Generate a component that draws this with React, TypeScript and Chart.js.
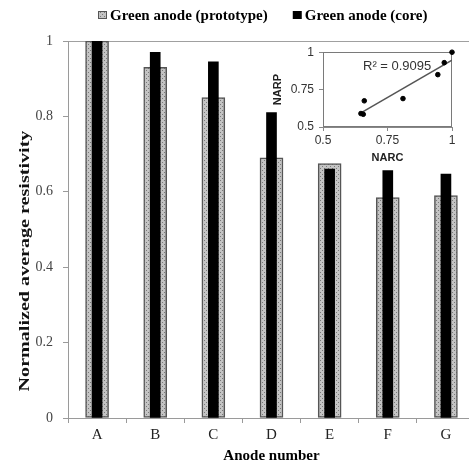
import React, { useEffect, useRef } from "react";
import { Chart, registerables } from "chart.js";

Chart.register(...registerables);

const categories = ["A", "B", "C", "D", "E", "F", "G"];
const prototypeValues = [1.0, 0.93, 0.85, 0.69, 0.675, 0.585, 0.59];
const coreValues = [1.0, 0.97, 0.945, 0.81, 0.66, 0.656, 0.647];
const seriesLabels = ["Green anode (prototype)", "Green anode (core)"];
const yTickLabels = ["0", "0.2", "0.4", "0.6", "0.8", "1"];
const insetTickLabels = ["0.5", "0.75", "1"];
const rSquaredLabel = "R² = 0.9095";
const xTitle = "Anode number";
const yTitle = "Normalized average resistivity";
const insetXTitle = "NARC";
const insetYTitle = "NARP";

const SERIF = "'Liberation Serif', 'Times New Roman', serif";
const SANS = "'Liberation Sans', Arial, sans-serif";

function makePattern(): CanvasPattern | string {
  const c = document.createElement("canvas");
  c.width = 4;
  c.height = 4;
  const g = c.getContext("2d");
  if (!g) return "#bdbdbd";
  g.fillStyle = "#c4c4c4";
  g.fillRect(0, 0, 4, 4);
  g.fillStyle = "#7a7a7a";
  g.fillRect(0, 0, 1, 1);
  g.fillRect(2, 2, 1, 1);
  const p = g.createPattern(c, "repeat");
  return p || "#bdbdbd";
}

function linearFit(xs: number[], ys: number[]) {
  const n = xs.length;
  let sx = 0, sy = 0, sxx = 0, sxy = 0;
  for (let i = 0; i < n; i++) {
    sx += xs[i];
    sy += ys[i];
    sxx += xs[i] * xs[i];
    sxy += xs[i] * ys[i];
  }
  const b = (n * sxy - sx * sy) / (n * sxx - sx * sx);
  const a = (sy - b * sx) / n;
  return { a, b };
}

const mainDecor = {
  id: "mainDecor",
  afterDraw(chart: any) {
    const ctx = chart.ctx as CanvasRenderingContext2D;
    ctx.save();
    // legend
    ctx.font = `bold 15px ${SERIF}`;
    ctx.textBaseline = "middle";
    ctx.textAlign = "left";
    let x = 98;
    const y = 15;
    chart.data.datasets.forEach((ds: any) => {
      ctx.fillStyle = ds.backgroundColor;
      ctx.fillRect(x, y - 4, 9, 8);
      if (ds.borderWidth) {
        ctx.strokeStyle = ds.borderColor;
        ctx.lineWidth = 1;
        ctx.strokeRect(x + 0.5, y - 3.5, 8, 7);
      }
      ctx.fillStyle = "#000";
      ctx.fillText(ds.label, x + 12, y + 1);
      x += 12 + ctx.measureText(ds.label).width + 25;
    });
    // y axis title
    ctx.translate(25, 261);
    ctx.rotate(-Math.PI / 2);
    ctx.scale(1.34, 1);
    ctx.font = `bold 15px ${SERIF}`;
    ctx.textAlign = "center";
    ctx.fillStyle = "#111";
    ctx.fillText(yTitle, 0, 0);
    ctx.restore();
  },
};

const insetDecor = {
  id: "insetDecor",
  beforeDatasetsDraw(chart: any) {
    const { ctx, chartArea: a } = chart;
    ctx.save();
    ctx.strokeStyle = "#7a7a7a";
    ctx.lineWidth = 1;
    ctx.strokeRect(
      Math.round(a.left) + 0.5,
      Math.round(a.top) + 0.5,
      Math.round(a.right - a.left) - 1,
      Math.round(a.bottom - a.top) - 1
    );
    ctx.font = `13px ${SANS}`;
    ctx.fillStyle = "#333";
    ctx.textBaseline = "middle";
    ctx.textAlign = "left";
    ctx.fillText(rSquaredLabel, a.left + 40, a.top + 14);
    ctx.restore();
  },
};

export default function App() {
  const mainRef = useRef<HTMLCanvasElement | null>(null);
  const insetRef = useRef<HTMLCanvasElement | null>(null);

  useEffect(() => {
    if (!mainRef.current || !insetRef.current) return;
    const pattern = makePattern();

    const main = new Chart(mainRef.current, {
      type: "bar",
      data: {
        labels: categories,
        datasets: [
          {
            label: seriesLabels[0],
            data: prototypeValues,
            backgroundColor: pattern as any,
            borderColor: "#555555",
            borderWidth: 1.5,
            borderSkipped: false,
            barThickness: 23,
            grouped: false,
            order: 1,
          } as any,
          {
            label: seriesLabels[1],
            data: coreValues,
            backgroundColor: "#000000",
            borderWidth: 0,
            barThickness: 10,
            grouped: false,
            order: 0,
          } as any,
        ],
      },
      options: {
        responsive: false,
        animation: false,
        layout: { padding: { top: 41, right: 7, left: 0, bottom: 0 } },
        plugins: { legend: { display: false }, tooltip: { enabled: false } },
        scales: {
          x: {
            grid: {
              offset: true,
              drawOnChartArea: false,
              tickLength: 5,
              tickColor: "#9a9a9a",
            },
            border: { color: "#9a9a9a", width: 1 },
            ticks: {
              font: { family: SERIF, size: 15 },
              color: "#222",
              padding: 3,
              autoSkip: false,
              maxRotation: 0,
            },
            title: {
              display: true,
              text: xTitle,
              font: { family: SERIF, size: 15, weight: "bold" },
              color: "#000",
              padding: { top: 0, bottom: 1 },
            },
            afterFit: (s: any) => {
              s.height = 48;
            },
          },
          y: {
            min: 0,
            max: 1,
            ticks: {
              stepSize: 0.2,
              font: { family: SERIF, size: 14 },
              color: "#444",
              padding: 10,
              callback: (_v: any, i: number) => yTickLabels[i],
            },
            grid: {
              color: (c: any) =>
                c.tick && Math.abs(c.tick.value - 1) < 1e-9 ? "#a0a0a0" : "rgba(0,0,0,0)",
              tickLength: 5,
              tickColor: "#9a9a9a",
            },
            border: { color: "#9a9a9a", width: 1 },
            afterFit: (s: any) => {
              s.width = 68;
            },
          },
        },
      } as any,
      plugins: [mainDecor],
    });

    const fit = linearFit(coreValues, prototypeValues);
    const xMin = Math.min(...coreValues);
    const xMax = Math.max(...coreValues);

    const inset = new Chart(insetRef.current, {
      type: "scatter",
      data: {
        datasets: [
          {
            type: "scatter",
            data: coreValues.map((x, i) => ({ x, y: prototypeValues[i] })),
            backgroundColor: "#000",
            borderColor: "#000",
            pointRadius: 2.3,
            clip: false,
            order: 0,
          } as any,
          {
            type: "line",
            data: [
              { x: xMin, y: fit.a + fit.b * xMin },
              { x: xMax, y: fit.a + fit.b * xMax },
            ],
            borderColor: "#555",
            borderWidth: 1.5,
            pointRadius: 0,
            fill: false,
            order: 1,
          } as any,
        ],
      },
      options: {
        responsive: false,
        animation: false,
        layout: { padding: { top: 9, right: 17, left: 0, bottom: 0 } },
        plugins: { legend: { display: false }, tooltip: { enabled: false } },
        scales: {
          x: {
            type: "linear",
            min: 0.5,
            max: 1,
            ticks: {
              stepSize: 0.25,
              font: { family: SANS, size: 12 },
              color: "#333",
              padding: 2,
              callback: (_v: any, i: number) => insetTickLabels[i],
            },
            grid: { drawOnChartArea: false, tickLength: 4, tickColor: "#888" },
            border: { color: "#888" },
            title: {
              display: true,
              text: insetXTitle,
              font: { family: SANS, size: 11, weight: "bold" },
              color: "#222",
              padding: { top: 0, bottom: 5 },
            },
            afterFit: (s: any) => {
              s.height = 43;
            },
          },
          y: {
            type: "linear",
            min: 0.5,
            max: 1,
            ticks: {
              stepSize: 0.25,
              font: { family: SANS, size: 12 },
              color: "#333",
              padding: 5,
              callback: (_v: any, i: number) => insetTickLabels[i],
            },
            grid: { drawOnChartArea: false, tickLength: 4, tickColor: "#888" },
            border: { color: "#888" },
            title: {
              display: true,
              text: insetYTitle,
              font: { family: SANS, size: 11, weight: "bold" },
              color: "#222",
              padding: { top: 9, bottom: 0 },
            },
            afterFit: (s: any) => {
              s.width = 61;
            },
          },
        },
      } as any,
      plugins: [insetDecor],
    });

    return () => {
      main.destroy();
      inset.destroy();
    };
  }, []);

  return (
    <div
      style={{
        position: "absolute",
        left: 0,
        top: 0,
        width: 469,
        height: 466,
        overflow: "hidden",
        background: "#fff",
      }}
    >
      <canvas
        ref={mainRef}
        width={482}
        height={466}
        style={{ position: "absolute", left: 0, top: 0, width: 482, height: 466 }}
      />
      <canvas
        ref={insetRef}
        width={207}
        height={130}
        style={{ position: "absolute", left: 262, top: 40, width: 207, height: 130 }}
      />
    </div>
  );
}
